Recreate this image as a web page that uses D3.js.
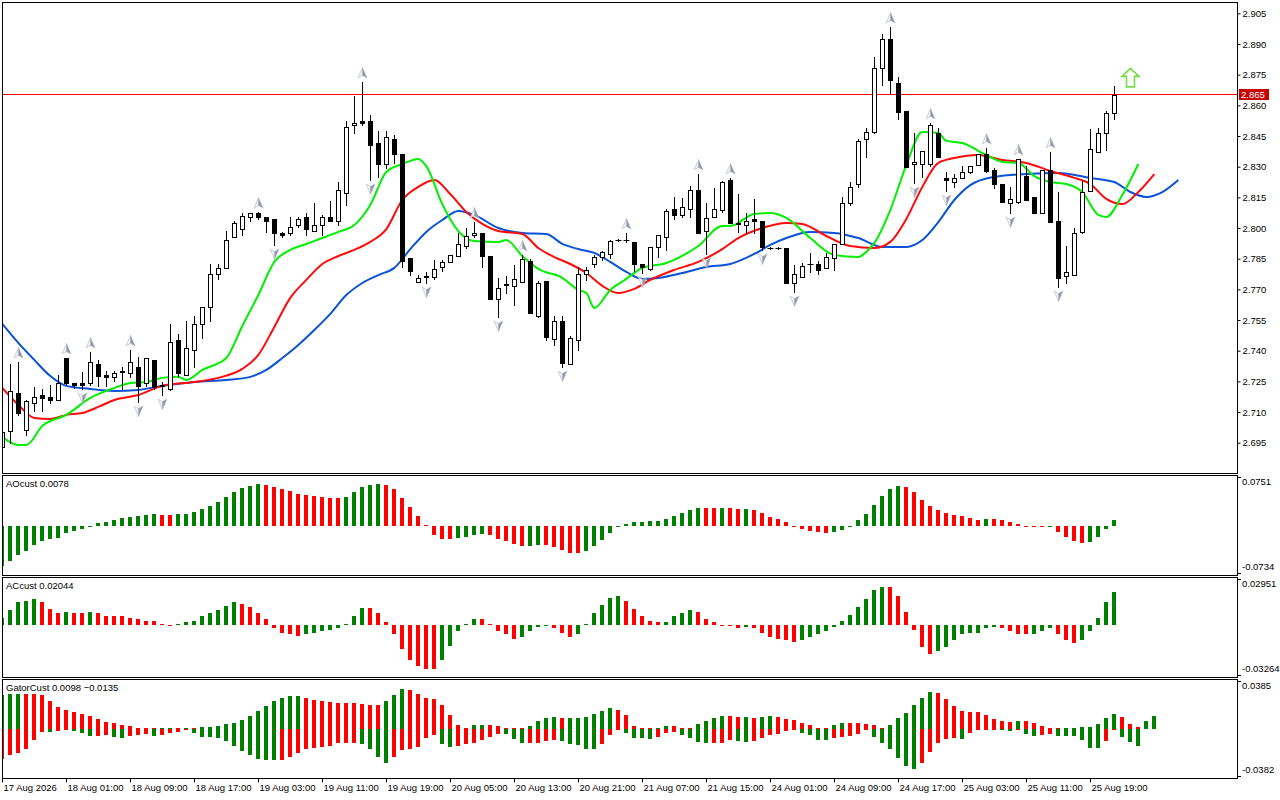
<!DOCTYPE html>
<html>
<head>
<meta charset="utf-8">
<title>AO / AC / Gator chart</title>
<script src="https://cdn.jsdelivr.net/npm/d3@7/dist/d3.min.js"></script>
<style>
	html, body { margin: 0; padding: 0; background: #ffffff; }
	#chart { width: 1280px; height: 800px; overflow: hidden; }
	svg { display: block; }
</style>
</head>
<body>
<div id="chart"></div>
<script>
// H1 candles, 17 Aug 17:00 .. 25 Aug 22:00
var opens = [
	2.6929, 2.7007, 2.7193, 2.7012, 2.7144, 2.7183, 2.7174, 2.7159, 2.7364, 2.7242,
	2.7242, 2.7242, 2.7335, 2.7281, 2.7272, 2.7300, 2.7291, 2.7320, 2.7242, 2.7355,
	2.7232, 2.7213, 2.7452, 2.7281, 2.7404, 2.7531, 2.7614, 2.7775, 2.7805, 2.7956,
	2.7995, 2.8054, 2.8073, 2.8054, 2.8044, 2.7976, 2.7976, 2.8015, 2.8054, 2.7985,
	2.8015, 2.8054, 2.8034, 2.8171, 2.8504, 2.8523, 2.8523, 2.8416, 2.8313, 2.8435,
	2.8362, 2.7853, 2.7736, 2.7761, 2.7761, 2.7809, 2.7834, 2.7863, 2.7912, 2.7966,
	2.7976, 2.7863, 2.7653, 2.7721, 2.7717, 2.7736, 2.7839, 2.7570, 2.7741, 2.7457,
	2.7545, 2.7335, 2.7452, 2.7775, 2.7824, 2.7858, 2.7873, 2.7941, 2.7941, 2.7932,
	2.7824, 2.7800, 2.7907, 2.7956, 2.8093, 2.8064, 2.8093, 2.8186, 2.7985, 2.8054,
	2.8088, 2.8235, 2.8020, 2.8015, 2.8044, 2.8034, 2.7902, 2.7902, 2.7902, 2.7731,
	2.7761, 2.7824, 2.7824, 2.7805, 2.7853, 2.7922, 2.8122, 2.8215, 2.8435, 2.8470,
	2.8782, 2.8924, 2.8709, 2.8572, 2.8313, 2.8313, 2.8313, 2.8465, 2.8245, 2.8225,
	2.8245, 2.8274, 2.8308, 2.8362, 2.8284, 2.8215, 2.8122, 2.8127, 2.8254, 2.8152,
	2.8073, 2.8284, 2.8034, 2.7765, 2.7770, 2.7981, 2.8181, 2.8372, 2.8465, 2.8562
];
var highs = [
	2.7037, 2.7335, 2.7345, 2.7159, 2.7223, 2.7213, 2.7232, 2.7281, 2.7364, 2.7242,
	2.7296, 2.7394, 2.7355, 2.7301, 2.7301, 2.7320, 2.7404, 2.7369, 2.7364, 2.7355,
	2.7247, 2.7531, 2.7482, 2.7545, 2.7570, 2.7614, 2.7824, 2.7824, 2.7985, 2.8034,
	2.8073, 2.8073, 2.8078, 2.8054, 2.8044, 2.7981, 2.8054, 2.8054, 2.8073, 2.8122,
	2.8064, 2.8132, 2.8225, 2.8523, 2.8646, 2.8714, 2.8553, 2.8474, 2.8474, 2.8455,
	2.8362, 2.7853, 2.7770, 2.7785, 2.7844, 2.7844, 2.7868, 2.7976, 2.8000, 2.8029,
	2.7976, 2.7863, 2.7756, 2.7765, 2.7819, 2.7868, 2.7849, 2.7741, 2.7741, 2.7570,
	2.7570, 2.7472, 2.7809, 2.7809, 2.7868, 2.7888, 2.7941, 2.7946, 2.7976, 2.7932,
	2.7824, 2.7907, 2.7966, 2.8093, 2.8152, 2.8147, 2.8206, 2.8264, 2.8122, 2.8196,
	2.8230, 2.8245, 2.8166, 2.8073, 2.8142, 2.8034, 2.7907, 2.7907, 2.7902, 2.7819,
	2.7829, 2.7878, 2.7839, 2.7878, 2.7922, 2.8152, 2.8225, 2.8435, 2.8489, 2.8836,
	2.8949, 2.8983, 2.8738, 2.8572, 2.8465, 2.8377, 2.8514, 2.8489, 2.8274, 2.8264,
	2.8303, 2.8303, 2.8362, 2.8391, 2.8294, 2.8215, 2.8201, 2.8338, 2.8303, 2.8152,
	2.8284, 2.8372, 2.8176, 2.7912, 2.8000, 2.8230, 2.8484, 2.8489, 2.8572, 2.8694
];
var lows = [
	2.6915, 2.6949, 2.7086, 2.6988, 2.7105, 2.7105, 2.7144, 2.7159, 2.7237, 2.7218,
	2.7213, 2.7232, 2.7228, 2.7228, 2.7252, 2.7213, 2.7272, 2.7149, 2.7228, 2.7213,
	2.7183, 2.7208, 2.7272, 2.7281, 2.7320, 2.7462, 2.7545, 2.7751, 2.7805, 2.7956,
	2.7966, 2.8034, 2.8044, 2.7981, 2.7917, 2.7956, 2.7966, 2.8005, 2.7966, 2.7985,
	2.7966, 2.8034, 2.8015, 2.8113, 2.8465, 2.8504, 2.8235, 2.8250, 2.8294, 2.8318,
	2.7809, 2.7770, 2.7736, 2.7731, 2.7751, 2.7790, 2.7834, 2.7863, 2.7902, 2.7956,
	2.7809, 2.7653, 2.7565, 2.7682, 2.7624, 2.7736, 2.7584, 2.7565, 2.7452, 2.7428,
	2.7320, 2.7335, 2.7404, 2.7746, 2.7809, 2.7844, 2.7853, 2.7937, 2.7932, 2.7790,
	2.7780, 2.7795, 2.7858, 2.7893, 2.8044, 2.8054, 2.8054, 2.7976, 2.7873, 2.8054,
	2.8078, 2.8025, 2.7981, 2.7976, 2.7976, 2.7893, 2.7897, 2.7897, 2.7731, 2.7687,
	2.7761, 2.7785, 2.7775, 2.7805, 2.7795, 2.7922, 2.8113, 2.8201, 2.8347, 2.8465,
	2.8699, 2.8660, 2.8533, 2.8298, 2.8220, 2.8250, 2.8303, 2.8347, 2.8181, 2.8201,
	2.8245, 2.8269, 2.8308, 2.8274, 2.8196, 2.8127, 2.8073, 2.8122, 2.8137, 2.8073,
	2.8073, 2.8029, 2.7712, 2.7731, 2.7770, 2.7976, 2.8181, 2.8372, 2.8382, 2.8533
];
var closes = [
	2.7003, 2.7203, 2.7095, 2.7154, 2.7174, 2.7169, 2.7159, 2.7242, 2.7242, 2.7232,
	2.7232, 2.7345, 2.7276, 2.7272, 2.7291, 2.7298, 2.7345, 2.7228, 2.7364, 2.7223,
	2.7228, 2.7443, 2.7291, 2.7413, 2.7531, 2.7614, 2.7775, 2.7805, 2.7941, 2.8025,
	2.8059, 2.8073, 2.8054, 2.8034, 2.7976, 2.7966, 2.8005, 2.8044, 2.7995, 2.8015,
	2.8054, 2.8034, 2.8186, 2.8494, 2.8514, 2.8514, 2.8406, 2.8313, 2.8445, 2.8362,
	2.7839, 2.7790, 2.7756, 2.7765, 2.7800, 2.7834, 2.7868, 2.7922, 2.7961, 2.7976,
	2.7863, 2.7653, 2.7707, 2.7726, 2.7751, 2.7849, 2.7584, 2.7731, 2.7467, 2.7545,
	2.7340, 2.7462, 2.7775, 2.7795, 2.7858, 2.7883, 2.7937, 2.7941, 2.7941, 2.7824,
	2.7809, 2.7907, 2.7966, 2.8083, 2.8064, 2.8103, 2.8186, 2.7976, 2.8049, 2.8093,
	2.8225, 2.8025, 2.8025, 2.8034, 2.8034, 2.7907, 2.7902, 2.7902, 2.7731, 2.7775,
	2.7814, 2.7824, 2.7795, 2.7858, 2.7922, 2.8122, 2.8201, 2.8426, 2.8470, 2.8782,
	2.8924, 2.8724, 2.8567, 2.8298, 2.8323, 2.8377, 2.8504, 2.8347, 2.8235, 2.8245,
	2.8274, 2.8303, 2.8362, 2.8279, 2.8215, 2.8127, 2.8142, 2.8338, 2.8137, 2.8073,
	2.8284, 2.8029, 2.7756, 2.7785, 2.7976, 2.8176, 2.8386, 2.8465, 2.8562, 2.8652
];

// Alligator (jaw / teeth / lips), bar index incl. forward shift
var jawBars = [0, 2, 4, 6, 8, 11, 14, 17, 20, 24, 28, 31, 33, 35, 37, 39, 41, 43, 45, 47, 49, 51, 53, 55, 57, 59, 62, 65, 68, 70, 72, 74, 76, 78, 80, 82, 85, 88, 91, 94, 96, 98, 101, 104, 107, 110, 113, 115, 117, 119, 121, 124, 128, 132, 136, 139, 141, 143, 145, 147];
var jawPrices = [2.7531, 2.7438, 2.7355, 2.7276, 2.7228, 2.7213, 2.7203, 2.7208, 2.7228, 2.7247, 2.7257, 2.7272, 2.7306, 2.7364, 2.7428, 2.7501, 2.7580, 2.7672, 2.7731, 2.7770, 2.7805, 2.7897, 2.7981, 2.8039, 2.8083, 2.8064, 2.8000, 2.7976, 2.7971, 2.7922, 2.7897, 2.7878, 2.7834, 2.7785, 2.7751, 2.7756, 2.7780, 2.7809, 2.7824, 2.7873, 2.7917, 2.7951, 2.7981, 2.7976, 2.7951, 2.7907, 2.7907, 2.7941, 2.8029, 2.8137, 2.8210, 2.8250, 2.8264, 2.8269, 2.8245, 2.8225, 2.8176, 2.8152, 2.8176, 2.8235];
var teethBars = [0, 2, 4, 6, 8, 10, 12, 14, 17, 20, 24, 27, 30, 32, 34, 36, 38, 40, 42, 44, 46, 48, 50, 52, 54, 56, 58, 60, 62, 65, 67, 69, 71, 73, 75, 77, 79, 81, 84, 87, 90, 92, 95, 98, 100, 103, 106, 109, 111, 113, 115, 117, 119, 122, 125, 128, 131, 134, 136, 138, 140, 142, 144];
var teethPrices = [2.7218, 2.7135, 2.7071, 2.7066, 2.7086, 2.7095, 2.7125, 2.7159, 2.7183, 2.7228, 2.7247, 2.7267, 2.7311, 2.7379, 2.7516, 2.7658, 2.7746, 2.7824, 2.7863, 2.7893, 2.7932, 2.7995, 2.8137, 2.8201, 2.8235, 2.8166, 2.8078, 2.8020, 2.7985, 2.7971, 2.7902, 2.7858, 2.7824, 2.7780, 2.7717, 2.7682, 2.7702, 2.7746, 2.7795, 2.7834, 2.7897, 2.7951, 2.8000, 2.8025, 2.8020, 2.7961, 2.7912, 2.7902, 2.7932, 2.8044, 2.8201, 2.8318, 2.8342, 2.8357, 2.8333, 2.8318, 2.8279, 2.8245, 2.8215, 2.8142, 2.8117, 2.8176, 2.8264];
var lipsBars = [0, 2, 3, 5, 8, 11, 14, 16, 18, 20, 22, 23, 25, 28, 30, 32, 34, 36, 38, 40, 42, 44, 46, 48, 50, 52, 53, 55, 57, 59, 62, 63, 65, 67, 70, 72, 73, 74, 76, 78, 80, 83, 87, 90, 91, 94, 96, 98, 101, 104, 107, 108, 109, 111, 113, 115, 117, 118, 120, 123, 125, 127, 129, 131, 133, 135, 137, 138, 140, 142];
var lipsPrices = [2.6978, 2.6939, 2.6939, 2.7032, 2.7086, 2.7169, 2.7218, 2.7242, 2.7247, 2.7267, 2.7272, 2.7257, 2.7306, 2.7364, 2.7521, 2.7672, 2.7834, 2.7893, 2.7922, 2.7951, 2.7981, 2.8015, 2.8113, 2.8274, 2.8313, 2.8338, 2.8303, 2.8117, 2.7985, 2.7937, 2.7932, 2.7941, 2.7863, 2.7800, 2.7756, 2.7697, 2.7682, 2.7609, 2.7697, 2.7751, 2.7805, 2.7829, 2.7912, 2.8010, 2.8010, 2.8069, 2.8073, 2.8049, 2.7951, 2.7868, 2.7858, 2.7883, 2.7927, 2.8088, 2.8308, 2.8470, 2.8465, 2.8426, 2.8416, 2.8357, 2.8323, 2.8318, 2.8254, 2.8225, 2.8215, 2.8176, 2.8064, 2.8054, 2.8161, 2.8313];

// fractal bars and the signal arrow
var fractalUpBars = [2, 8, 11, 16, 32, 45, 59, 65, 78, 87, 91, 111, 116, 123, 127, 131];
var fractalDownBars = [10, 17, 20, 34, 46, 53, 62, 70, 80, 88, 95, 99, 114, 118, 126, 132];
var signalBars = [141];
var signalPrices = [2.8734];

// oscillators
var aoValues = [
	-0.0606, -0.0530, -0.0444, -0.0384, -0.0293, -0.0232, -0.0202, -0.0182, -0.0111, -0.0081,
	-0.0051, -0.0015, 0.0040, 0.0056, 0.0086, 0.0116, 0.0136, 0.0152, 0.0162, 0.0177,
	0.0165, 0.0160, 0.0175, 0.0180, 0.0202, 0.0253, 0.0303, 0.0359, 0.0434, 0.0510,
	0.0571, 0.0606, 0.0631, 0.0616, 0.0586, 0.0550, 0.0525, 0.0480, 0.0465, 0.0455,
	0.0434, 0.0422, 0.0418, 0.0434, 0.0510, 0.0586, 0.0616, 0.0631, 0.0616, 0.0556,
	0.0419, 0.0283, 0.0146, 0.0010, -0.0141, -0.0200, -0.0204, -0.0187, -0.0172, -0.0141,
	-0.0126, -0.0141, -0.0202, -0.0232, -0.0278, -0.0308, -0.0305, -0.0293, -0.0296, -0.0323,
	-0.0369, -0.0412, -0.0416, -0.0384, -0.0308, -0.0217, -0.0111, -0.0015, 0.0025, 0.0052,
	0.0058, 0.0069, 0.0073, 0.0101, 0.0146, 0.0192, 0.0237, 0.0270, 0.0268, 0.0266,
	0.0269, 0.0267, 0.0253, 0.0255, 0.0237, 0.0192, 0.0131, 0.0101, 0.0056, -0.0015,
	-0.0051, -0.0081, -0.0096, -0.0111, -0.0096, -0.0066, -0.0015, 0.0086, 0.0177, 0.0313,
	0.0449, 0.0556, 0.0601, 0.0586, 0.0510, 0.0389, 0.0298, 0.0237, 0.0192, 0.0162,
	0.0146, 0.0116, 0.0086, 0.0101, 0.0099, 0.0086, 0.0056, 0.0025, -0.0008, -0.0013,
	-0.0016, -0.0014, -0.0096, -0.0172, -0.0232, -0.0263, -0.0247, -0.0172, -0.0051, 0.0078
];
var acValues = [
	0.0040, 0.0095, 0.0146, 0.0148, 0.0159, 0.0140, 0.0101, 0.0076, 0.0082, 0.0076,
	0.0074, 0.0082, 0.0076, 0.0057, 0.0055, 0.0051, 0.0044, 0.0032, 0.0025, 0.0024,
	0.0006, -0.0006, 0.0006, 0.0013, 0.0025, 0.0057, 0.0070, 0.0095, 0.0120, 0.0140,
	0.0133, 0.0114, 0.0076, 0.0032, -0.0019, -0.0051, -0.0063, -0.0070, -0.0063, -0.0051,
	-0.0044, -0.0032, -0.0025, 0.0006, 0.0057, 0.0108, 0.0106, 0.0076, 0.0019, -0.0057,
	-0.0152, -0.0222, -0.0260, -0.0279, -0.0281, -0.0222, -0.0133, -0.0044, 0.0006, 0.0038,
	0.0036, 0.0006, -0.0044, -0.0063, -0.0089, -0.0076, -0.0044, -0.0013, -0.0006, -0.0019,
	-0.0051, -0.0076, -0.0057, 0.0006, 0.0070, 0.0127, 0.0171, 0.0178, 0.0152, 0.0101,
	0.0051, 0.0025, 0.0013, 0.0019, 0.0051, 0.0076, 0.0089, 0.0082, 0.0038, 0.0013,
	-0.0002, -0.0004, -0.0019, -0.0013, -0.0019, -0.0051, -0.0076, -0.0089, -0.0095, -0.0108,
	-0.0101, -0.0076, -0.0063, -0.0038, -0.0013, 0.0025, 0.0063, 0.0114, 0.0159, 0.0216,
	0.0241, 0.0235, 0.0178, 0.0082, -0.0032, -0.0140, -0.0184, -0.0171, -0.0140, -0.0095,
	-0.0057, -0.0056, -0.0051, -0.0025, -0.0013, -0.0019, -0.0038, -0.0057, -0.0063, -0.0062,
	-0.0044, -0.0019, -0.0057, -0.0101, -0.0120, -0.0101, -0.0044, 0.0044, 0.0140, 0.02044
];
var gatorUpper = [
	0.0265, 0.0272, 0.0275, 0.0273, 0.0271, 0.0266, 0.0219, 0.0172, 0.0149, 0.0133,
	0.0117, 0.0102, 0.0078, 0.0055, 0.0047, 0.0029, 0.0021, 0.0008, 0.0005, 0.0002,
	0.0008, 0.0009, 0.0007, 0.0009, 0.0008, 0.0016, 0.0017, 0.0023, 0.0039, 0.0047,
	0.0070, 0.0102, 0.0141, 0.0180, 0.0219, 0.0243, 0.0258, 0.0259, 0.0243, 0.0227,
	0.0219, 0.0211, 0.0204, 0.0203, 0.0200, 0.0196, 0.0188, 0.0187, 0.0219, 0.0266,
	0.0313, 0.0305, 0.0274, 0.0243, 0.0235, 0.0188, 0.0110, 0.0031, 0.0002, 0.0031,
	0.0032, 0.0031, 0.0023, 0.0008, 0.0004, 0.0002, 0.0023, 0.0063, 0.0086, 0.0094,
	0.0086, 0.0087, 0.0088, 0.0094, 0.0117, 0.0141, 0.0164, 0.0149, 0.0110, 0.0023,
	0.0002, 0.0001, 0.0008, 0.0023, 0.0022, 0.0008, 0.0007, 0.0039, 0.0063, 0.0086,
	0.0102, 0.0101, 0.0094, 0.0095, 0.0086, 0.0094, 0.0102, 0.0094, 0.0078, 0.0070,
	0.0047, 0.0031, 0.0008, 0.0007, 0.0031, 0.0047, 0.0046, 0.0045, 0.0039, 0.0031,
	0.0008, 0.0031, 0.0086, 0.0125, 0.0188, 0.0243, 0.0290, 0.0282, 0.0235, 0.0180,
	0.0141, 0.0133, 0.0132, 0.0110, 0.0078, 0.0063, 0.0055, 0.0063, 0.0062, 0.0047,
	0.0023, 0.0005, 0.0001, 0.0002, 0.0008, 0.0016, 0.0017, 0.0039, 0.0086, 0.0117,
	0.0094, 0.0039, 0.0016, 0.0063, 0.0098
];
var gatorLower = [
	-0.0238, -0.0211, -0.0196, -0.0157, -0.0086, -0.0023, -0.0025, -0.0022, -0.0008, -0.0016,
	-0.0031, -0.0055, -0.0054, -0.0047, -0.0063, -0.0070, -0.0055, -0.0047, -0.0039, -0.0055,
	-0.0047, -0.0031, -0.0023, -0.0010, -0.0031, -0.0063, -0.0064, -0.0070, -0.0094, -0.0133,
	-0.0180, -0.0211, -0.0243, -0.0250, -0.0251, -0.0249, -0.0227, -0.0196, -0.0157, -0.0156,
	-0.0141, -0.0133, -0.0117, -0.0115, -0.0114, -0.0118, -0.0157, -0.0227, -0.0274, -0.0227,
	-0.0172, -0.0157, -0.0141, -0.0070, -0.0047, -0.0125, -0.0141, -0.0133, -0.0125, -0.0110,
	-0.0086, -0.0063, -0.0039, -0.0040, -0.0078, -0.0117, -0.0116, -0.0110, -0.0094, -0.0093,
	-0.0095, -0.0125, -0.0126, -0.0157, -0.0164, -0.0125, -0.0047, -0.0008, -0.0031, -0.0070,
	-0.0073, -0.0078, -0.0063, -0.0031, -0.0030, -0.0047, -0.0070, -0.0102, -0.0117, -0.0116,
	-0.0115, -0.0086, -0.0094, -0.0102, -0.0094, -0.0070, -0.0047, -0.0039, -0.0016, -0.0008,
	-0.0031, -0.0047, -0.0086, -0.0087, -0.0070, -0.0063, -0.0055, -0.0039, -0.0008, -0.0063,
	-0.0117, -0.0164, -0.0235, -0.0298, -0.0321, -0.0274, -0.0188, -0.0117, -0.0078, -0.0077,
	-0.0079, -0.0031, -0.0008, -0.0007, -0.0006, -0.0008, -0.0016, -0.0008, -0.0039, -0.0055,
	-0.0047, -0.0039, -0.0055, -0.0056, -0.0057, -0.0086, -0.0149, -0.0150, -0.0094, -0.0003,
	-0.0063, -0.0102, -0.0135
];

// scales shown at the right of each window
var priceTicks = [2.695, 2.710, 2.725, 2.740, 2.755, 2.770, 2.785, 2.800, 2.815, 2.830, 2.845, 2.860, 2.875, 2.890, 2.905];
var aoRange = [-0.0734, 0.0751];
var acRange = [-0.03264, 0.02951];
var gatorRange = [-0.0382, 0.0385];
var aoRangeLabels = ['-0.0734', '0.0751'];
var acRangeLabels = ['-0.03264', '0.02951'];
var gatorRangeLabels = ['-0.0382', '0.0385'];

// time axis
var timeBars = [0, 8, 16, 24, 32, 40, 48, 56, 64, 72, 80, 88, 96, 104, 112, 120, 128, 136];
var timeLabels = ['17 Aug 2026', '18 Aug 01:00', '18 Aug 09:00', '18 Aug 17:00', '19 Aug 03:00', '19 Aug 11:00',
	'19 Aug 19:00', '20 Aug 05:00', '20 Aug 13:00', '20 Aug 21:00', '21 Aug 07:00', '21 Aug 15:00',
	'24 Aug 01:00', '24 Aug 09:00', '24 Aug 17:00', '25 Aug 03:00', '25 Aug 11:00', '25 Aug 19:00'];


function MtChart () {
	if (typeof arguments[0].elId === 'undefined') {
		console.error('Missing Parameters "elId"');
		return;
	}
	this.dom = document.getElementById(arguments[0].elId);
	if (this.dom === null) {
		console.error('Not Find Id [' + arguments[0].elId + '] Element');
		return;
	}
	this.width = 1280;
	this.height = 800;
	this.plotLeft = 2;
	this.plotRight = 1237;
	this.panels = {
		main:  {top: 2,   bottom: 473},
		ao:    {top: 475, bottom: 575},
		ac:    {top: 577, bottom: 677},
		gator: {top: 679, bottom: 778}
	};
	this.fontFamily = "'Liberation Sans', Arial, sans-serif";
	this.fontSize = 9.5;
	this.upColor = '#008000';
	this.downColor = '#ff0000';
	this.jawColor = '#0b52d6';
	this.teethColor = '#ff0a0a';
	this.lipsColor = '#00f000';
	this.priceLineColor = '#ff0000';
	this.init.apply(this, arguments);
}

MtChart.prototype = {
	init: function (options) {
		var self = this;
		for (var k in options) {
			self[k] = options[k];
		}
		self.createScales();
		self.createSVG();
		self.createPanels();
		self.createPriceAxis();
		self.createAlligator();
		self.createPriceLine();
		self.createCandles();
		self.createFractals();
		self.createSignal();
		self.createOscillators();
		self.createTimeAxis();
	},
	createScales: function () {
		var p = this.panels;
		// bar 0 sits half outside the left border, 8px per bar
		this.x = d3.scaleLinear().domain([0, 139]).range([2.3, 1114.3]);
		this.y = d3.scaleLinear().domain([2.695, 2.905]).range([442.7, 13.3]);
		this.aoY = d3.scaleLinear().domain(aoRange).range([p.ao.bottom - 1, p.ao.top + 1]);
		this.acY = d3.scaleLinear().domain(acRange).range([p.ac.bottom - 1, p.ac.top + 1]);
		this.gatorY = d3.scaleLinear().domain(gatorRange).range([p.gator.bottom - 1, p.gator.top + 1]);
	},
	createSVG: function () {
		this.svg = d3.select('#' + this.elId)
			.append('svg')
			.attr('width', this.width)
			.attr('height', this.height)
			.attr('viewBox', '0 0 ' + this.width + ' ' + this.height)
			.style('font-family', this.fontFamily);

		this.svg.append('rect')
			.attr('width', this.width)
			.attr('height', this.height)
			.attr('fill', '#ffffff');

		var defs = this.svg.append('defs');
		var self = this;
		['main', 'ao', 'ac', 'gator'].forEach(function (name) {
			var p = self.panels[name];
			defs.append('clipPath')
				.attr('id', 'clip_' + name)
				.append('rect')
				.attr('x', self.plotLeft + 1)
				.attr('y', p.top + 1)
				.attr('width', self.plotRight - self.plotLeft - 1)
				.attr('height', p.bottom - p.top - 1);
		});
	},
	createPanels: function () {
		var self = this;
		var names = ['main', 'ao', 'ac', 'gator'];
		self.svg.selectAll('.panel_frame')
			.data(names)
			.enter()
			.append('rect')
			.attr('class', 'panel_frame')
			.attr('x', self.plotLeft + 0.5)
			.attr('y', function (d) { return self.panels[d].top + 0.5; })
			.attr('width', self.plotRight - self.plotLeft)
			.attr('height', function (d) { return self.panels[d].bottom - self.panels[d].top; })
			.attr('fill', 'none')
			.attr('stroke', '#000000')
			.attr('stroke-width', 1);

		self.layers = {};
		names.forEach(function (n) {
			self.layers[n] = self.svg.append('g').attr('clip-path', 'url(#clip_' + n + ')');
		});
	},
	createPriceAxis: function () {
		var self = this;
		var axis = d3.axisRight(self.y)
			.tickValues(priceTicks)
			.tickSize(3)
			.tickPadding(2)
			.tickFormat(d3.format('.3f'));

		var g = self.svg.append('g')
			.attr('class', 'price_axis')
			.attr('transform', 'translate(' + (self.plotRight + 0.5) + ',0)')
			.call(axis);
		g.select('.domain').remove();
		g.attr('font-family', self.fontFamily).attr('font-size', self.fontSize);
		g.selectAll('text').attr('fill', '#000000');
		g.selectAll('line').attr('stroke', '#000000');
	},
	createPriceLine: function () {
		var self = this;
		var last = closes[closes.length - 1];
		var py = Math.floor(self.y(last));

		// 1px band as a rect keeps the red solid
		self.layers.main.append('rect')
			.attr('x', self.plotLeft)
			.attr('y', py)
			.attr('width', self.plotRight - self.plotLeft)
			.attr('height', 1)
			.attr('fill', self.priceLineColor)
			.attr('shape-rendering', 'crispEdges');

		self.svg.append('rect')
			.attr('x', self.plotRight + 2)
			.attr('y', py - 5)
			.attr('width', 30)
			.attr('height', 11)
			.attr('fill', '#c80000');

		self.svg.append('text')
			.attr('x', self.plotRight + 4)
			.attr('y', py + 0.5)
			.attr('dy', '0.34em')
			.attr('font-size', self.fontSize)
			.attr('fill', '#ffffff')
			.text(d3.format('.3f')(last));
	},
	createAlligator: function () {
		var self = this;
		var line = d3.line()
			.x(function (d) { return self.x(d.bar); })
			.y(function (d) { return self.y(d.price); })
			.curve(d3.curveMonotoneX);

		var series = [
			{bars: jawBars, prices: jawPrices, color: self.jawColor},
			{bars: teethBars, prices: teethPrices, color: self.teethColor},
			{bars: lipsBars, prices: lipsPrices, color: self.lipsColor}
		];

		self.layers.main.selectAll('.alligator_line')
			.data(series)
			.enter()
			.append('path')
			.attr('class', 'alligator_line')
			.attr('d', function (s) {
				return line(s.bars.map(function (b, i) {
					return {bar: b, price: s.prices[i]};
				}));
			})
			.attr('fill', 'none')
			.attr('stroke', function (s) { return s.color; })
			.attr('stroke-width', 2)
			.attr('stroke-linejoin', 'round');
	},
	createCandles: function () {
		var self = this;
		var candles = opens.map(function (o, i) {
			return {i: i, open: o, high: highs[i], low: lows[i], close: closes[i]};
		});
		var cx = function (d) { return Math.round(self.x(d.i)) + 0.5; };

		self.layers.main.selectAll('.wick')
			.data(candles)
			.enter()
			.append('line')
			.attr('class', 'wick')
			.attr('x1', cx)
			.attr('x2', cx)
			.attr('y1', function (d) { return Math.round(self.y(d.high)); })
			.attr('y2', function (d) { return Math.round(self.y(d.low)) + 1; })
			.attr('stroke', '#000000')
			.attr('stroke-width', 1);

		self.layers.main.selectAll('.body')
			.data(candles.filter(function (d) { return d.open !== d.close; }))
			.enter()
			.append('rect')
			.attr('class', 'body')
			.attr('x', function (d) { return cx(d) - 2; })
			.attr('y', function (d) { return Math.round(self.y(Math.max(d.open, d.close))) + 0.5; })
			.attr('width', 4)
			.attr('height', function (d) {
				return Math.max(1, Math.round(Math.abs(self.y(d.open) - self.y(d.close))));
			})
			.attr('fill', function (d) { return d.close > d.open ? '#ffffff' : '#000000'; })
			.attr('stroke', '#000000')
			.attr('stroke-width', 1);

		self.layers.main.selectAll('.doji')
			.data(candles.filter(function (d) { return d.open === d.close; }))
			.enter()
			.append('line')
			.attr('class', 'doji')
			.attr('x1', function (d) { return cx(d) - 3; })
			.attr('x2', function (d) { return cx(d) + 3; })
			.attr('y1', function (d) { return Math.round(self.y(d.open)) + 0.5; })
			.attr('y2', function (d) { return Math.round(self.y(d.open)) + 0.5; })
			.attr('stroke', '#000000')
			.attr('stroke-width', 1);
	},
	createFractals: function () {
		var self = this;
		var g = self.layers.main;

		var drawArrow = function (sel, flip) {
			var s = flip ? -1 : 1;
			sel.append('path')
				.attr('d', 'M0,' + (-5.5 * s) + 'L0,' + (2.5 * s) + 'L-4.5,' + (5 * s) + 'Z')
				.attr('fill', '#eef0f6')
				.attr('stroke', '#b4b8c4')
				.attr('stroke-width', 0.6);
			sel.append('path')
				.attr('d', 'M0,' + (-5.5 * s) + 'L4.5,' + (5 * s) + 'L0,' + (2.5 * s) + 'Z')
				.attr('fill', '#9296a4')
				.attr('stroke', '#b4b8c4')
				.attr('stroke-width', 0.6);
		};

		var up = g.selectAll('.fractal_up')
			.data(fractalUpBars)
			.enter()
			.append('g')
			.attr('class', 'fractal_up')
			.attr('transform', function (b) {
				return 'translate(' + (Math.round(self.x(b)) + 0.5) + ',' + (self.y(highs[b]) - 9) + ')';
			});
		drawArrow(up, false);

		var down = g.selectAll('.fractal_down')
			.data(fractalDownBars)
			.enter()
			.append('g')
			.attr('class', 'fractal_down')
			.attr('transform', function (b) {
				return 'translate(' + (Math.round(self.x(b)) + 0.5) + ',' + (self.y(lows[b]) + 9) + ')';
			});
		drawArrow(down, true);
	},
	createSignal: function () {
		var self = this;
		self.layers.main.selectAll('.signal_arrow')
			.data(signalBars)
			.enter()
			.append('path')
			.attr('class', 'signal_arrow')
			.attr('transform', function (b, i) {
				return 'translate(' + (Math.round(self.x(b)) + 0.5) + ',' + self.y(signalPrices[i]) + ')';
			})
			.attr('d', 'M0,-9.5L8.5,-1.5L4,-1.5L4,9L-4,9L-4,-1.5L-8.5,-1.5Z')
			.attr('fill', '#ffffff')
			.attr('stroke', '#74dc48')
			.attr('stroke-width', 1.6)
			.attr('stroke-linejoin', 'miter');
	},
	createHistogram: function (layer, values, scale, absCompare, firstUp) {
		var self = this;
		var zero = Math.round(scale(0));
		layer.selectAll(null)
			.data(values)
			.enter()
			.append('rect')
			.attr('x', function (d, i) { return Math.round(self.x(i)) - 2; })
			.attr('y', function (d) { return d >= 0 ? Math.min(zero - 1, Math.round(scale(d))) : zero; })
			.attr('width', 4)
			.attr('height', function (d) { return Math.max(1, Math.abs(Math.round(scale(d)) - zero)); })
			.attr('fill', function (d, i) {
				var up;
				if (i === 0) {
					up = firstUp;
				} else if (absCompare) {
					up = Math.abs(d) > Math.abs(values[i - 1]);
				} else {
					up = d > values[i - 1];
				}
				return up ? self.upColor : self.downColor;
			});
	},
	createPanelText: function (name, title, rangeLabels) {
		var self = this;
		var p = self.panels[name];
		self.svg.append('text')
			.attr('x', 6)
			.attr('y', p.top + 12)
			.attr('font-size', self.fontSize)
			.attr('fill', '#000000')
			.text(title);

		self.svg.selectAll(null)
			.data(rangeLabels)
			.enter()
			.append('text')
			.attr('x', self.plotRight + 5)
			.attr('y', function (d, i) { return i === 0 ? p.bottom - 5 : p.top + 10; })
			.attr('font-size', self.fontSize)
			.attr('fill', '#000000')
			.text(function (d) { return d; });

		self.svg.selectAll(null)
			.data([p.top + 2, p.bottom - 2])
			.enter()
			.append('line')
			.attr('x1', self.plotRight)
			.attr('x2', self.plotRight + 4)
			.attr('y1', function (d) { return d + 0.5; })
			.attr('y2', function (d) { return d + 0.5; })
			.attr('stroke', '#000000');
	},
	createOscillators: function () {
		var self = this;
		var f4 = d3.format('.4f');
		var f5 = d3.format('.5f');

		self.createHistogram(self.layers.ao, aoValues, self.aoY, false, true);
		self.createHistogram(self.layers.ac, acValues, self.acY, false, true);
		self.createHistogram(self.layers.gator, gatorUpper, self.gatorY, false, true);
		self.createHistogram(self.layers.gator, gatorLower, self.gatorY, true, false);

		self.createPanelText('ao', 'AOcust ' + f4(aoValues[aoValues.length - 1]), aoRangeLabels);
		self.createPanelText('ac', 'ACcust ' + f5(acValues[acValues.length - 1]), acRangeLabels);
		self.createPanelText('gator', 'GatorCust ' + f4(gatorUpper[gatorUpper.length - 1]) + ' ' +
			f4(gatorLower[gatorLower.length - 1]), gatorRangeLabels);
	},
	createTimeAxis: function () {
		var self = this;
		var axis = d3.axisBottom(self.x)
			.tickValues(timeBars)
			.tickSize(4)
			.tickPadding(2)
			.tickFormat(function (d, i) { return timeLabels[i]; });

		var g = self.svg.append('g')
			.attr('class', 'time_axis')
			.attr('transform', 'translate(0,' + (self.panels.gator.bottom + 0.5) + ')')
			.call(axis);
		g.select('.domain').remove();
		g.attr('font-family', self.fontFamily).attr('font-size', self.fontSize);
		g.selectAll('.tick').attr('transform', function (d) {
			return 'translate(' + (Math.round(self.x(d)) + 0.5) + ',0)';
		});
		g.selectAll('text')
			.attr('text-anchor', 'start')
			.attr('x', 1)
			.attr('fill', '#000000');
		g.selectAll('line').attr('stroke', '#000000');
	}
};

new MtChart({elId: 'chart'});
</script>
</body>
</html>
